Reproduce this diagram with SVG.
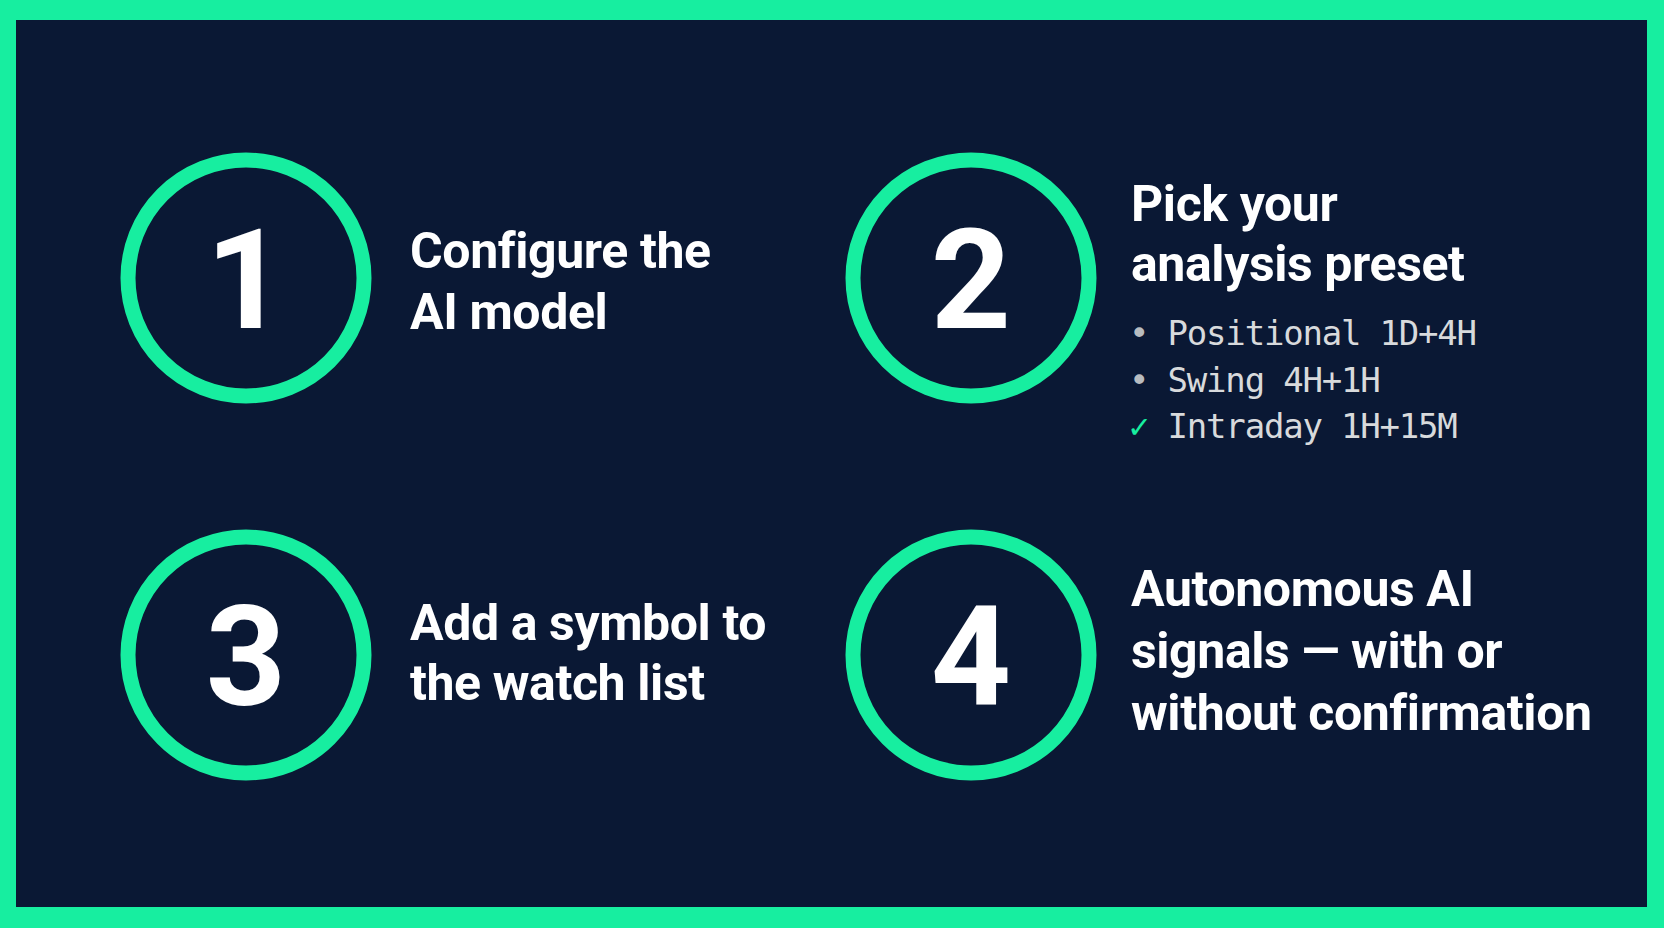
<svg xmlns="http://www.w3.org/2000/svg" width="1664" height="928" viewBox="0 0 1664 928">
  <style>
    .ring { fill: none; stroke: #17eea0; stroke-width: 15; }
    .num { font-family: Roboto, "Liberation Sans", sans-serif; font-weight: 700; font-size: 140px; fill: #ffffff; text-anchor: middle; }
    .head { font-family: Roboto, "Liberation Sans", sans-serif; font-weight: 700; font-size: 50px; fill: #ffffff; letter-spacing: -0.4px; }
    .mono { font-family: "DejaVu Sans Mono", "Liberation Mono", monospace; font-size: 34px; letter-spacing: -1.2px; fill: #d8dadc; }
    .bul { fill: #b8bcc0; }
    .chk { fill: #17eea0; }
  </style>
  <rect x="0" y="0" width="1664" height="928" fill="#17eea0"/>
  <rect x="16" y="20" width="1631" height="887" fill="#0a1834"/>

  <g id="step1">
    <circle class="ring" cx="246" cy="278" r="118"/>
    <text class="num" x="246" y="328">1</text>
    <text class="head" x="410" y="268">Configure the</text>
    <text class="head" x="410" y="329">AI model</text>
  </g>

  <g id="step2">
    <circle class="ring" cx="971" cy="278" r="118"/>
    <text class="num" x="971" y="328">2</text>
    <text class="head" x="1131" y="221">Pick your</text>
    <text class="head" x="1131" y="281">analysis preset</text>
    <text class="mono" x="1129" y="345"><tspan class="bul">•</tspan> Positional 1D+4H</text>
    <text class="mono" x="1129" y="392"><tspan class="bul">•</tspan> Swing 4H+1H</text>
    <text class="mono" x="1129" y="438"><tspan class="chk">✓</tspan> Intraday 1H+15M</text>
  </g>

  <g id="step3">
    <circle class="ring" cx="246" cy="655" r="118"/>
    <text class="num" x="246" y="705">3</text>
    <text class="head" x="410" y="640">Add a symbol to</text>
    <text class="head" x="410" y="700">the watch list</text>
  </g>

  <g id="step4">
    <circle class="ring" cx="971" cy="655" r="118"/>
    <text class="num" x="971" y="705">4</text>
    <text class="head" x="1131" y="606">Autonomous AI</text>
    <text class="head" x="1131" y="668">signals — with or</text>
    <text class="head" x="1131" y="730">without confirmation</text>
  </g>

  <g id="connectors"/>
</svg>
